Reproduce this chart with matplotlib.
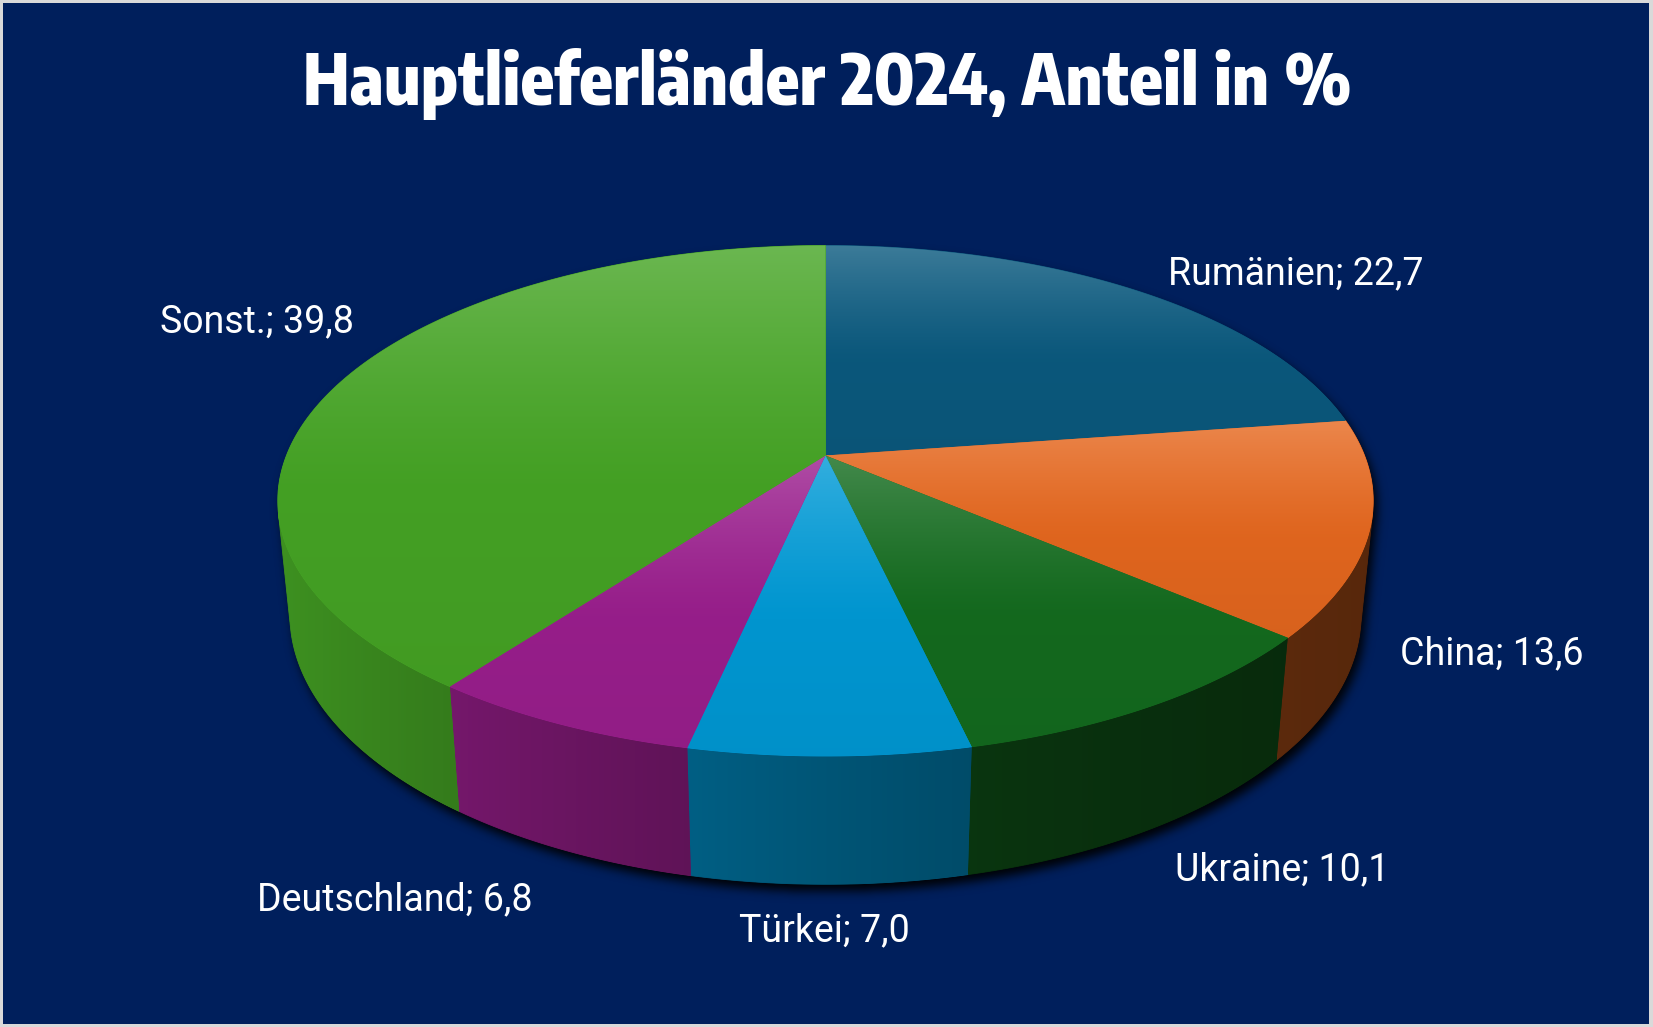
import numpy as np
import matplotlib
matplotlib.use("Agg")
import matplotlib.pyplot as plt
from matplotlib import font_manager as fm
from matplotlib.patches import Polygon, Rectangle
from matplotlib.path import Path
from matplotlib.colors import to_rgb

# ---------------- data ----------------
categories = ["Rumänien", "China", "Ukraine", "Türkei", "Deutschland", "Sonst."]
values = [22.7, 13.6, 10.1, 7.0, 6.8, 39.8]
value_labels = ["22,7", "13,6", "10,1", "7,0", "6,8", "39,8"]
title = "Hauptlieferländer 2024, Anteil in %"

# ---------------- style ----------------
slice_colors = ["#0b5a7f", "#e6681f", "#146c1f", "#009ad6", "#9b1f8e", "#46a525"]
BG = "#001f5c"
BORDER = "#d9d9d9"
# label anchor (left x, baseline y) in pixel units of the figure
label_pos = [(1168, 284), (1400, 664), (1175, 880), (739, 941), (257, 910), (160, 332)]


def pick_title_font():
    cands = {}
    for f in fm.fontManager.ttflist:
        if f.name == "Encode Sans Condensed" and f.style == "normal":
            w = f.weight if isinstance(f.weight, int) else 400
            cands[w] = f.fname
    for pref in (800, 900, 700, 600):
        if pref in cands:
            return fm.FontProperties(fname=cands[pref])
    for f in fm.fontManager.ttflist:
        if f.name == "DejaVu Sans" and str(f.stretch) == "condensed" and f.weight in (700, "bold") \
                and f.style == "normal":
            return fm.FontProperties(fname=f.fname)
    return fm.FontProperties(family="DejaVu Sans", weight="bold")


W, H = 1653, 1027
fig = plt.figure(figsize=(W / 100, H / 100), dpi=100)
fig.patch.set_facecolor(BORDER)
ax = fig.add_axes([0, 0, 1, 1])
ax.set_xlim(0, W)
ax.set_ylim(H, 0)
ax.axis("off")
ax.add_patch(Rectangle((3, 3), W - 7, H - 6, facecolor=BG, edgecolor="none", zorder=0))

# ---------------- perspective camera ----------------
PHI = np.radians(27.3)
sp, cp = np.sin(PHI), np.cos(PHI)
RATIO = 1.431
DIST = cp * (RATIO + 1) / (RATIO - 1)
CX, CY = 825.5, 455.5
FAR = 210.0
FOC = FAR * (DIST + cp) / sp
THICK = 0.24


def proj(theta, z):
    X = np.sin(theta)
    Y = np.cos(theta)
    depth = DIST + Y * cp - z * sp
    sx = CX + FOC * X / depth
    sy = CY - FOC * (Y * sp + z * cp) / depth
    return sx, sy


vals = np.array(values, float)
edges = np.concatenate([[0.0], np.cumsum(vals)]) / vals.sum() * 2 * np.pi
tv1 = np.arccos(-1.0 / (DIST * cp))
tv2 = 2 * np.pi - tv1

# ---------------- shadow ----------------
t_back = np.linspace(tv1, tv2 - 2 * np.pi, 400)
t_front = np.linspace(tv2, tv1, 400)
bx, by = proj(t_back, 0.0)
fx, fy = proj(t_front, -THICK)
sil = np.column_stack([np.concatenate([bx, fx]), np.concatenate([by, fy])])
gx, gy = np.meshgrid(np.arange(W) + 0.5 - 4, np.arange(H) + 0.5 - 7)
mask = Path(sil).contains_points(np.column_stack([gx.ravel(), gy.ravel()])).reshape(H, W).astype(float)


def blur(a, sigma):
    r = int(3 * sigma)
    k = np.exp(-0.5 * (np.arange(-r, r + 1) / sigma) ** 2)
    k /= k.sum()
    p = np.pad(a, ((0, 0), (r, r)))
    out = sum(k[i] * p[:, i:i + a.shape[1]] for i in range(2 * r + 1))
    p = np.pad(out, ((r, r), (0, 0)))
    out = sum(k[i] * p[i:i + a.shape[0], :] for i in range(2 * r + 1))
    return out


sh = blur(mask, 5.0)
rgba = np.zeros((H, W, 4))
rgba[..., 3] = np.clip(sh * 0.95, 0, 1)
ax.imshow(rgba, extent=(0, W, H, 0), origin="upper", zorder=1, interpolation="bilinear")


# ---------------- walls ----------------
def wall_brightness(theta):
    return 0.38 + 0.5 * ((1 + np.cos(theta - np.radians(260))) / 2) ** 2


for i in range(len(values)):
    a, b = max(edges[i], tv1), min(edges[i + 1], tv2)
    if b <= a:
        continue
    th = np.linspace(a, b, 200)
    tx, ty = proj(th, 0.0)
    lx, ly = proj(th[::-1], -THICK)
    poly = np.column_stack([np.concatenate([tx, lx]), np.concatenate([ty, ly])])
    base = np.array(to_rgb(slice_colors[i]))
    mid = base * wall_brightness((a + b) / 2)
    patch = Polygon(poly, closed=True, facecolor=mid, edgecolor=mid, lw=0.6, zorder=2)
    ax.add_patch(patch)
    x0, x1 = poly[:, 0].min(), poly[:, 0].max()
    y0, y1 = poly[:, 1].min(), poly[:, 1].max()
    nx = max(int(x1 - x0), 2)
    xs = np.linspace(x0, x1, nx)
    order = np.argsort(tx)
    thx = np.interp(xs, tx[order], th[order])
    cols = base[None, :] * wall_brightness(thx)[:, None]
    img = np.repeat(cols[None, :, :], 2, axis=0)
    im = ax.imshow(np.clip(img, 0, 1), extent=(x0, x1, y1, y0), origin="upper",
                   zorder=3, interpolation="bilinear", aspect="auto")
    im.set_clip_path(patch)

# ---------------- top faces ----------------
for i in range(len(values)):
    th = np.linspace(edges[i], edges[i + 1], 300)
    tx, ty = proj(th, 0.0)
    poly = np.column_stack([np.concatenate([[CX], tx]), np.concatenate([[CY], ty])])
    base = np.array(to_rgb(slice_colors[i]))
    patch = Polygon(poly, closed=True, facecolor=base, edgecolor=base, lw=0.6, zorder=4)
    ax.add_patch(patch)
    x0, x1 = poly[:, 0].min(), poly[:, 0].max()
    y0, y1 = poly[:, 1].min(), poly[:, 1].max()
    ny = max(int(y1 - y0), 2)
    t = np.linspace(0, 1, ny)
    w = 0.20 * np.clip(1 - t / 0.55, 0, 1) ** 1.3
    dark = 1 - 0.06 * t
    cols = base[None, :] * dark[:, None] * (1 - w[:, None]) + w[:, None]
    img = np.repeat(cols[:, None, :], 2, axis=1)
    im = ax.imshow(np.clip(img, 0, 1), extent=(x0, x1, y1, y0), origin="upper",
                   zorder=5, interpolation="bilinear", aspect="auto")
    im.set_clip_path(patch)

# ---------------- text ----------------
for (lx, ly), cat, lab in zip(label_pos, categories, value_labels):
    ax.text(lx, ly, f"{cat}; {lab}", color="white", fontsize=27,
            family=["Roboto", "DejaVu Sans"], ha="left", va="baseline", zorder=6)

tfont = pick_title_font()
tsize = 53.0
tt = ax.text(827, 105, title, color="white", fontproperties=tfont, fontsize=tsize,
             ha="center", va="baseline", zorder=6)
fig.canvas.draw()
tw = tt.get_window_extent(fig.canvas.get_renderer()).width
tsize = float(np.clip(tsize * 1049.0 / tw, 38, 62))
tt.set_fontsize(tsize)

fig.savefig("out.png", dpi=100, facecolor=fig.get_facecolor())
